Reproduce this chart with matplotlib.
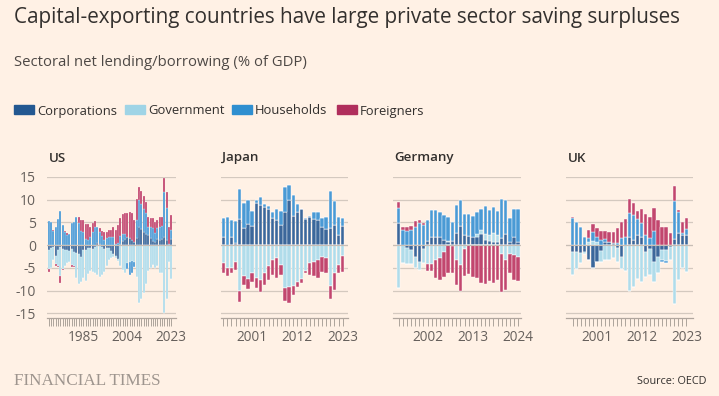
import numpy as np
import matplotlib
matplotlib.use('Agg')
import matplotlib.pyplot as plt
from matplotlib.patches import Rectangle

# ---------------- data ----------------
sectors = ['Corporations', 'Government', 'Households', 'Foreigners']

us_years = list(range(1970, 2024))
us_corp = [-1.0, -0.5, -0.3, -2.3, -1.0, -0.3, -0.8, -1.0, -1.0, -1.2,
           -0.8, -1.5, -1.8, -2.0, -2.5, -1.0, -1.0, -0.6, -0.5, -0.8,
           -0.3, 0.5, 0.3, -0.3, -0.8, -0.5, -0.6, -1.2, -2.0, -2.4,
           -3.0, 0.3, 1.0, 1.3, 1.8, 1.5, 1.2, 0.6, 1.5, 4.0,
           3.6, 3.0, 2.5, 2.2, 1.5, 1.0, 0.8, 1.4, 1.2, 1.3,
           1.8, 1.2, 0.3, 1.3]
us_gov = [-4.3, -4.5, -3.0, -1.8, -3.5, -6.5, -4.5, -3.5, -3.0, -2.5,
          -3.5, -3.0, -5.5, -6.5, -5.5, -6.2, -6.8, -5.8, -5.2, -5.0,
          -5.8, -6.5, -7.0, -6.3, -5.0, -4.0, -2.6, -1.5, -0.5, -0.3,
          -0.4, -4.5, -5.5, -6.0, -3.8, -3.6, -3.4, -3.7, -7.0, -12.8,
          -11.8, -10.6, -8.6, -5.6, -5.0, -4.4, -5.0, -4.5, -6.2, -6.0,
          -15.0, -11.8, -3.6, -7.5]
us_hh = [5.4, 5.0, 3.2, 4.0, 5.7, 7.6, 4.5, 2.9, 2.3, 2.5,
         4.9, 5.0, 6.2, 4.8, 3.2, 2.8, 1.4, 1.2, 1.8, 3.0,
         4.1, 3.5, 2.6, 2.0, 1.1, 1.5, 1.8, 1.7, 1.7, 0.2,
         0.5, 1.8, 1.5, 1.2, -1.5, -3.0, -2.8, -1.0, 4.0, 6.0,
         5.5, 5.0, 4.5, 1.8, 2.4, 2.8, 1.9, 2.3, 2.8, 3.0,
         10.0, 7.0, 0.0, 2.0]
us_for = [-0.5, 0.0, 0.1, -0.5, -0.3, -1.5, -0.1, 0.3, 0.3, 0.0,
          -0.5, -0.2, 0.1, 1.3, 2.4, 2.8, 3.3, 3.4, 2.3, 1.8,
          1.3, 0.0, 0.8, 1.2, 1.7, 1.5, 1.6, 1.7, 2.4, 3.2,
          3.9, 3.8, 4.3, 4.6, 5.2, 5.8, 5.8, 5.0, 4.6, 2.7,
          2.9, 2.9, 2.6, 2.1, 2.1, 2.2, 2.3, 1.9, 2.1, 2.0,
          2.9, 3.6, 3.8, 3.3]

jp_years = list(range(1994, 2024))
jp_corp = [1.7, 0.0, 1.9, 0.4, 5.7, 3.7, 4.6, 4.2, 9.2, 8.8,
           8.5, 8.0, 6.0, 5.5, 4.5, 7.4, 10.0, 6.5, 7.4, 7.9,
           5.8, 6.2, 5.7, 5.6, 4.0, 3.5, 3.8, 4.5, 2.3, 4.2]
jp_gov = [-4.0, -5.0, -5.0, -3.6, -10.0, -6.8, -7.5, -6.2, -7.3, -7.6,
          -6.2, -4.6, -3.2, -2.9, -4.3, -9.3, -9.1, -8.9, -8.0, -7.5,
          -5.6, -3.8, -3.6, -3.2, -2.5, -2.9, -8.9, -6.2, -4.3, -2.4]
jp_hh = [4.2, 6.2, 3.6, 4.9, 6.7, 5.6, 5.3, 3.4, 0.8, 1.9,
         0.5, 0.6, 1.4, 2.5, 3.0, 5.4, 3.2, 4.6, 1.7, 0.1,
         0.2, 0.3, 1.7, 1.6, 1.9, 2.8, 8.1, 5.3, 4.0, 1.8]
jp_for = [-2.2, -1.8, -1.2, -1.8, -2.4, -2.0, -2.1, -1.8, -2.2, -2.6,
          -2.6, -3.0, -3.3, -4.2, -2.2, -2.9, -3.5, -2.0, -1.1, -0.7,
          -0.6, -2.7, -3.2, -3.9, -3.4, -3.3, -2.9, -3.7, -1.7, -3.4]

de_years = list(range(1995, 2025))
de_corp = [4.9, 0.0, -0.5, -1.0, -2.5, -3.6, -0.8, 1.0, 1.9, 1.7,
           1.7, 1.2, 0.8, 1.0, 2.6, 4.3, 2.3, 2.1, 1.7, 1.8,
           2.4, 1.2, 1.0, 0.8, 0.8, 1.5, 2.5, 0.6, 1.9, 0.8]
de_gov = [-9.3, -4.0, -3.6, -3.2, -2.5, -1.8, -3.0, -4.2, -4.2, -3.2,
          -2.9, -1.4, 0.2, -0.2, -3.2, -4.4, -0.9, 0.0, 0.1, 0.6,
          1.0, 1.2, 1.3, 1.9, 1.5, -2.0, -3.3, -2.0, -2.2, -2.5]
de_hh = [3.3, 3.4, 3.2, 3.4, 4.1, 4.9, 4.4, 4.6, 5.8, 6.0,
         5.6, 5.5, 5.3, 4.2, 6.3, 5.7, 4.5, 4.7, 4.6, 4.9,
         4.6, 6.3, 5.4, 5.6, 5.3, 8.7, 7.5, 5.4, 6.0, 7.1]
de_for = [1.2, 0.7, 0.7, 0.9, 1.3, 0.7, 0.5, -1.5, -1.5, -4.0,
          -4.8, -5.5, -6.2, -6.0, -5.6, -5.6, -5.9, -6.4, -6.9, -7.3,
          -8.2, -8.6, -7.9, -8.2, -7.6, -8.2, -6.5, -4.2, -5.5, -5.3]

uk_years = list(range(1995, 2024))
uk_corp = [-1.4, -1.4, -1.6, -1.4, -3.2, -5.1, -3.6, -1.2, 0.8, 0.6,
           0.4, -0.6, -2.5, 0.0, 1.8, 1.2, 2.3, 1.8, -1.4, -0.9,
           -3.6, -2.5, -1.0, -1.0, -0.3, 1.3, 2.6, 2.3, 2.3]
uk_gov = [-5.1, -3.9, -2.4, -0.5, 0.8, 1.0, 0.7, -2.4, -3.2, -3.2,
          -2.9, -3.0, -2.8, -5.6, -10.0, -9.1, -7.5, -8.0, -5.5, -5.7,
          -4.4, -3.5, -2.2, -2.4, -2.9, -12.9, -7.6, -5.1, -5.8]
uk_hh = [6.0, 5.2, 3.9, 1.8, 0.7, 1.9, 1.2, 1.1, 0.5, 0.2,
         0.1, 0.4, 1.5, 1.8, 5.3, 5.5, 3.5, 3.1, 2.3, 1.5,
         3.2, -0.2, -0.4, -0.4, 0.0, 8.5, 4.7, 0.4, 1.2]
uk_for = [0.3, 0.0, 0.0, 0.0, 1.9, 1.8, 1.8, 2.0, 1.9, 2.2,
          2.3, 3.3, 3.7, 4.0, 3.1, 2.6, 1.7, 3.1, 4.6, 4.8,
          4.9, 5.5, 4.1, 4.0, 2.6, 3.2, 0.4, 2.4, 2.4]

panel_names = ['US', 'Japan', 'Germany', 'UK']
panel_ticks = [[1985, 2004, 2023], [2001, 2012, 2023], [2002, 2013, 2024], [2001, 2012, 2023]]
y_ticks = [-15, -10, -5, 0, 5, 10, 15]

# ---------------- style ----------------
BG = '#fff1e5'
TEXT = '#33302e'
MUTED = '#66605c'
GRID = '#d4c9bf'
LEG_COLORS = ['#235891', '#9fd4e6', '#2f8fd0', '#b02e5c']
BAR_COLORS = ['#3b679b', '#b0dcea', '#4a9ad5', '#c2466e']

plt.rcParams['font.family'] = ['Open Sans', 'DejaVu Sans']
plt.rcParams['axes.unicode_minus'] = False

fig = plt.figure(figsize=(7.19, 3.96), dpi=100)
fig.patch.set_facecolor(BG)

fig.text(0.019, 0.955, 'Capital-exporting countries have large private sector saving surpluses',
         fontsize=14.9, color=TEXT, va='center', ha='left')
fig.text(0.019, 0.843, 'Sectoral net lending/borrowing (% of GDP)',
         fontsize=10.7, color='#4d4845', va='center', ha='left')

# legend
leg_x = [14, 125, 232, 337]
for lx, name, col in zip(leg_x, sectors, LEG_COLORS):
    fig.patches.append(Rectangle((lx / 719, 1 - 114 / 396), 20 / 719, 9 / 396,
                                 transform=fig.transFigure, color=col))
    fig.text((lx + 23) / 719, 1 - 111 / 396, name, fontsize=9.4, color=TEXT,
             va='center', ha='left')

datasets = [
    (us_years, [us_corp, us_gov, us_hh, us_for], (1969.3, 2025.0)),
    (jp_years, [jp_corp, jp_gov, jp_hh, jp_for], (1993.45, 2024.3)),
    (de_years, [de_corp, de_gov, de_hh, de_for], (1993.6, 2024.7)),
    (uk_years, [uk_corp, uk_gov, uk_hh, uk_for], (1993.4, 2024.6)),
]
lefts = [47, 221, 393, 566]
widths = [129, 127, 128, 127]

for i, ((yrs, series, xl), name, ticks) in enumerate(zip(datasets, panel_names, panel_ticks)):
    ax = fig.add_axes([lefts[i] / 719, 1 - 318 / 396, widths[i] / 719, 141 / 396])
    ax.set_facecolor(BG)
    x = np.array(yrs)
    pos = np.zeros(len(x))
    neg = np.zeros(len(x))
    bw = 0.85 if i == 0 else 0.82
    lw = 0.15 if i == 0 else 0.3
    for vals, col in zip(series, BAR_COLORS):
        v = np.array(vals, dtype=float)
        p = np.where(v > 0, v, 0.0)
        q = np.where(v < 0, v, 0.0)
        ax.bar(x, p, bottom=pos, width=bw, color=col, edgecolor='white',
               linewidth=lw, zorder=2)
        ax.bar(x, q, bottom=neg, width=bw, color=col, edgecolor='white',
               linewidth=lw, zorder=2)
        pos += p
        neg += q
    ax.set_ylim(-16, 15)
    ax.set_xlim(*xl)
    ax.set_yticks(y_ticks)
    ax.grid(axis='y', color=GRID, linewidth=0.9, zorder=0)
    ax.axhline(0, color='#c8beb5', linewidth=0.8, zorder=3)
    ax.set_axisbelow(True)
    for s in ['top', 'right', 'left']:
        ax.spines[s].set_visible(False)
    ax.spines['bottom'].set_color('#b0a69e')
    ax.spines['bottom'].set_linewidth(0.9)
    ax.set_xticks(x, minor=True)
    ax.set_xticks(ticks)
    ax.set_xticklabels([str(t) for t in ticks])
    ax.tick_params(axis='x', which='both', length=5.5, width=0.6, color='#a09890',
                   labelsize=9.8, labelcolor=MUTED, pad=3)
    if i == 0:
        ax.set_yticklabels([str(t) for t in y_ticks])
        ax.tick_params(axis='y', length=0, labelsize=10, labelcolor=MUTED, pad=8)
    else:
        ax.tick_params(axis='y', length=0, labelleft=False)
    fig.text(lefts[i] / 719 + 0.002, 1 - 158 / 396, name, fontsize=9.6,
             color=TEXT, va='center', ha='left', fontweight='semibold')

fig.text(0.019, 1 - 381 / 396, 'FINANCIAL TIMES', fontsize=12.3, color='#9e958e',
         family=['Liberation Serif', 'DejaVu Serif'], va='center', ha='left')
fig.text(0.982, 1 - 381 / 396, 'Source: OECD', fontsize=7.8, color=TEXT,
         va='center', ha='right')

fig.savefig('out.png', dpi=100, facecolor=BG)
